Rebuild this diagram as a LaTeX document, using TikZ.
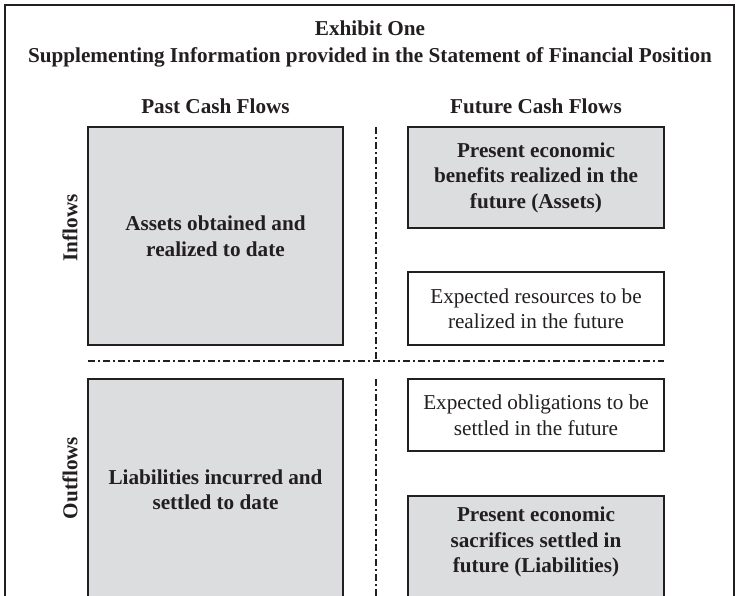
\documentclass[tikz,border=0pt]{standalone}
\usepackage{fontspec}
\setmainfont{Liberation Serif}
\usetikzlibrary{positioning}
\definecolor{boxgray}{RGB}{220,221,223}
\definecolor{inkblack}{RGB}{35,31,32}

\begin{document}
\begin{tikzpicture}[x=1pt, y=-1pt,
    every node/.style={text=inkblack, font=\fontsize{21.2}{25.5}\selectfont, align=center, inner sep=0pt},
    head/.style={font=\fontsize{21.2}{25.5}\selectfont\bfseries},
    graybox/.style={draw=inkblack, line width=2pt, fill=boxgray, font=\fontsize{21.2}{25.5}\selectfont\bfseries},
    whitebox/.style={draw=inkblack, line width=2pt, fill=white},
    divider/.style={draw=inkblack, line width=1.2pt, dash pattern=on 7pt off 3pt on 2pt off 3pt}]
  \useasboundingbox (0,0) rectangle (739,595);
  \clip (0,0) rectangle (739,595);

  \draw[inkblack, line width=2.4pt] (5,600) -- (5,5) -- (734,5) -- (734,600);

  \node[head] (title) at (370,28) {Exhibit One};
  \node[head] (subtitle) at (370,57) {Supplementing Information provided in the Statement of Financial Position};
  \node[head] (past) at (215.5,106) {Past Cash Flows};
  \node[head] (future) at (536,106) {Future Cash Flows};

  \node[head, rotate=90] (inflows) at (70,228) {Inflows};
  \node[head, rotate=90] (outflows) at (70,478) {Outflows};

  \draw[divider] (376,127) -- (376,361);
  \draw[divider] (376,379) -- (376,600);
  \draw[divider] (88,361) -- (664,361);

  \node[graybox, minimum width=255, minimum height=218] (pastin) at (215.5,236) {Assets obtained and\\realized to date};
  \node[graybox, minimum width=256, minimum height=101] (futin) at (536,177.5) {Present economic\\benefits realized in the\\future (Assets)};
  \node[whitebox, minimum width=256, minimum height=73] (expres) at (536,308.5) {Expected resources to be\\realized in the future};

  \node[graybox, minimum width=255, minimum height=221] (pastout) at (215.5,489.5) {Liabilities incurred and\\settled to date};
  \node[whitebox, minimum width=256, minimum height=72] (expobl) at (536,415) {Expected obligations to be\\settled in the future};
  \node[graybox, minimum width=256, minimum height=120, anchor=north] (futout) at (536,495) {};
  \node[head] (futouttext) at (536,542) {Present economic\\sacrifices settled in\\future (Liabilities)};
\end{tikzpicture}
\end{document}
